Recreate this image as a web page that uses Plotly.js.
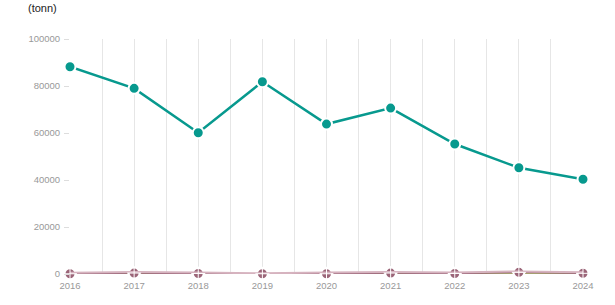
<!DOCTYPE html>
<html>
<head>
<meta charset="utf-8">
<script src="https://cdn.plot.ly/plotly-3.0.1.min.js"></script>
<style>
html,body{margin:0;padding:0;background:#fff;}
#chart{width:615px;height:305px;}
</style>
</head>
<body>
<div id="chart"></div>
<script>
const years = [2016, 2017, 2018, 2019, 2020, 2021, 2022, 2023, 2024];
const mainSeries = [88200, 79000, 60100, 81800, 63800, 70600, 55300, 45200, 40300];
const pinkSeries = [500, 800, 600, 300, 600, 900, 600, 1100, 700];
const oliveSeries = [0, 0, 0, 0, 0, 0, 0, 0, 0];
const mauveSeries = [100, 400, 200, 100, 100, 400, 200, 700, 300];
const yTicks = [0, 20000, 40000, 60000, 80000, 100000];

const traces = [
  {x: years, y: oliveSeries, mode: 'lines', line: {color: '#8c9a3c', width: 1.5}, hoverinfo: 'skip', cliponaxis: false},
  {x: years, y: mauveSeries, mode: 'lines+markers', line: {color: '#9b6578', width: 1.5},
   marker: {size: 11, color: '#9b6578', line: {color: '#ffffff', width: 2}}, cliponaxis: false},
  {x: years, y: pinkSeries, mode: 'lines', line: {color: '#d6b3bf', width: 2}, hoverinfo: 'skip', cliponaxis: false},
  {x: years, y: mauveSeries, mode: 'markers', marker: {symbol: 'cross-thin-open', size: 10, color: '#ffffff', line: {color: '#ffffff', width: 1}}, hoverinfo: 'skip', cliponaxis: false},
  {x: years, y: mainSeries, mode: 'lines+markers', line: {color: '#07998e', width: 2.5},
   marker: {size: 11, color: '#07998e', line: {color: '#ffffff', width: 2}}, cliponaxis: false}
];

const layout = {
  width: 615, height: 305,
  margin: {l: 70, r: 32, t: 39, b: 31},
  paper_bgcolor: '#ffffff', plot_bgcolor: '#ffffff',
  showlegend: false,
  font: {family: 'Liberation Sans, Arial, sans-serif', size: 9, color: '#999999'},
  xaxis: {
    range: [2016, 2024], tickvals: years, ticktext: years.map(String),
    showgrid: true, gridcolor: '#e6e6e6', gridwidth: 1,
    minor: {dtick: 0.5, tick0: 2016, showgrid: true, gridcolor: '#e6e6e6', gridwidth: 1},
    zeroline: false, showline: false, ticks: '', ticklabelstandoff: 4,
    tickfont: {size: 9.5, color: '#999999'}
  },
  yaxis: {
    range: [0, 100000], tickvals: yTicks, ticktext: yTicks.map(String),
    showgrid: false, zeroline: false, showline: false,
    ticks: 'outside', ticklen: 5, tickcolor: '#dddddd', tickwidth: 1, ticklabelstandoff: 2,
    tickfont: {size: 9.5, color: '#999999'}
  },
  annotations: [{
    text: '(tonn)', xref: 'paper', yref: 'paper', x: -70/513 + 26/513, y: 1,
    xanchor: 'left', yanchor: 'bottom', yshift: 23, showarrow: false,
    font: {size: 11, color: '#222222', family: 'Liberation Sans, Arial, sans-serif'}
  }]
};

Plotly.newPlot('chart', traces, layout, {displayModeBar: false, staticPlot: true});
</script>
</body>
</html>
